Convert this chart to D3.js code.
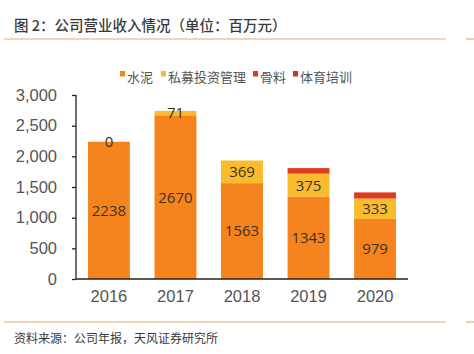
<!DOCTYPE html>
<html>
<head>
<meta charset="utf-8">
<script src="https://cdn.jsdelivr.net/npm/d3@7"></script>
<style>
  body { margin: 0; background: #fff; }
  svg { display: block; }
</style>
</head>
<body>
<div id="chart"></div>
<script>
// dati
const years = ["2016", "2017", "2018", "2019", "2020"];
const seriesNames = ["水泥", "私募投资管理", "骨料", "体育培训"];
const cement = [2238, 2670, 1563, 1343, 979];
const privateEquity = [0, 71, 369, 375, 333];
const aggregate = [0, 0, 0, 90, 100];
const sports = [0, 0, 0, 0, 0];
const yTicks = [0, 500, 1000, 1500, 2000, 2500, 3000];
const colors = ["#f5841f", "#fbbb2e", "#e03a1e", "#c0392b"];

const width = 474, height = 354;
const svg = d3.select("#chart").append("svg")
    .attr("width", width)
    .attr("height", height);

// titolo e linee
svg.append("text")
    .attr("x", 14).attr("y", 31)
    .attr("font-family", "Noto Sans CJK SC")
    .attr("font-size", 14.5)
    .attr("font-weight", 500)
    .attr("fill", "#3a3a3a")
    .text("图 2：公司营业收入情况（单位：百万元）");

[39, 322].forEach(y => {
  svg.append("line").attr("x1", 4).attr("x2", 446).attr("y1", y).attr("y2", y)
      .attr("stroke", "#f4a66a").attr("stroke-width", 1.2);
  svg.append("line").attr("x1", 466).attr("x2", 474).attr("y1", y).attr("y2", y)
      .attr("stroke", "#f4a66a").attr("stroke-width", 1.2);
});

svg.append("text")
    .attr("x", 14).attr("y", 343)
    .attr("font-family", "Noto Sans CJK SC")
    .attr("font-size", 12)
    .attr("fill", "#3a3a3a")
    .text("资料来源：公司年报，天风证券研究所");

// scale
const x = d3.scaleBand().domain(years).range([76, 408]).paddingInner(0.37).paddingOuter(0.18);
const y = d3.scaleLinear().domain([0, 3000]).range([279, 95]);

const table = years.map((yr, i) => ({
  year: yr,
  "水泥": cement[i],
  "私募投资管理": privateEquity[i],
  "骨料": aggregate[i],
  "体育培训": sports[i]
}));
const stack = d3.stack().keys(seriesNames)(table);

// barre
stack.forEach((layer, k) => {
  svg.append("g").selectAll("rect")
      .data(layer)
      .enter().append("rect")
      .attr("x", d => x(d.data.year))
      .attr("y", d => y(d[1]))
      .attr("width", x.bandwidth())
      .attr("height", d => y(d[0]) - y(d[1]))
      .attr("fill", colors[k]);
});

// etichette dei valori (solo 水泥 e 私募投资管理)
[0, 1].forEach(k => {
  svg.append("g").selectAll("text")
      .data(stack[k])
      .enter().append("text")
      .attr("x", d => x(d.data.year) + x.bandwidth() / 2)
      .attr("y", d => (y(d[0]) + y(d[1])) / 2)
      .attr("dy", "0.36em")
      .attr("text-anchor", "middle")
      .attr("font-family", "Open Sans, Liberation Sans")
      .attr("font-size", 15)
      .attr("fill", "#3b3326")
      .text(d => d[1] - d[0]);
});

// assi
const yAxis = svg.append("g")
    .attr("transform", "translate(76,0)")
    .call(d3.axisLeft(y).tickValues(yTicks).tickSize(4).tickPadding(15).tickFormat(d3.format(",")));
yAxis.select(".domain").attr("stroke", "#222").attr("stroke-width", 1.3).attr("d", "M0,95V279");
yAxis.selectAll(".tick line").attr("stroke", "#222").attr("stroke-width", 1.3);
yAxis.selectAll("text")
    .attr("font-family", "Liberation Sans")
    .attr("font-size", 16.5)
    .attr("fill", "#555");

const xAxis = svg.append("g")
    .attr("transform", "translate(0,279)")
    .call(d3.axisBottom(x).tickSize(0).tickPadding(11));
xAxis.select(".domain").attr("stroke", "#222").attr("stroke-width", 1.3).attr("d", "M76,0H408");
xAxis.selectAll("text")
    .attr("font-family", "Liberation Sans")
    .attr("font-size", 16.5)
    .attr("fill", "#555");

// legenda
const legendX = [120, 161, 253, 293];
const legend = svg.append("g").selectAll("g")
    .data(seriesNames)
    .enter().append("g")
    .attr("transform", (d, i) => `translate(${legendX[i]},0)`);
legend.append("rect")
    .attr("x", 0).attr("y", 71)
    .attr("width", 5).attr("height", 5.5)
    .attr("fill", (d, i) => colors[i]);
legend.append("text")
    .attr("x", 7).attr("y", 82)
    .attr("font-family", "Noto Sans CJK SC")
    .attr("font-size", 13)
    .attr("fill", "#555")
    .text(d => d);
</script>
</body>
</html>
